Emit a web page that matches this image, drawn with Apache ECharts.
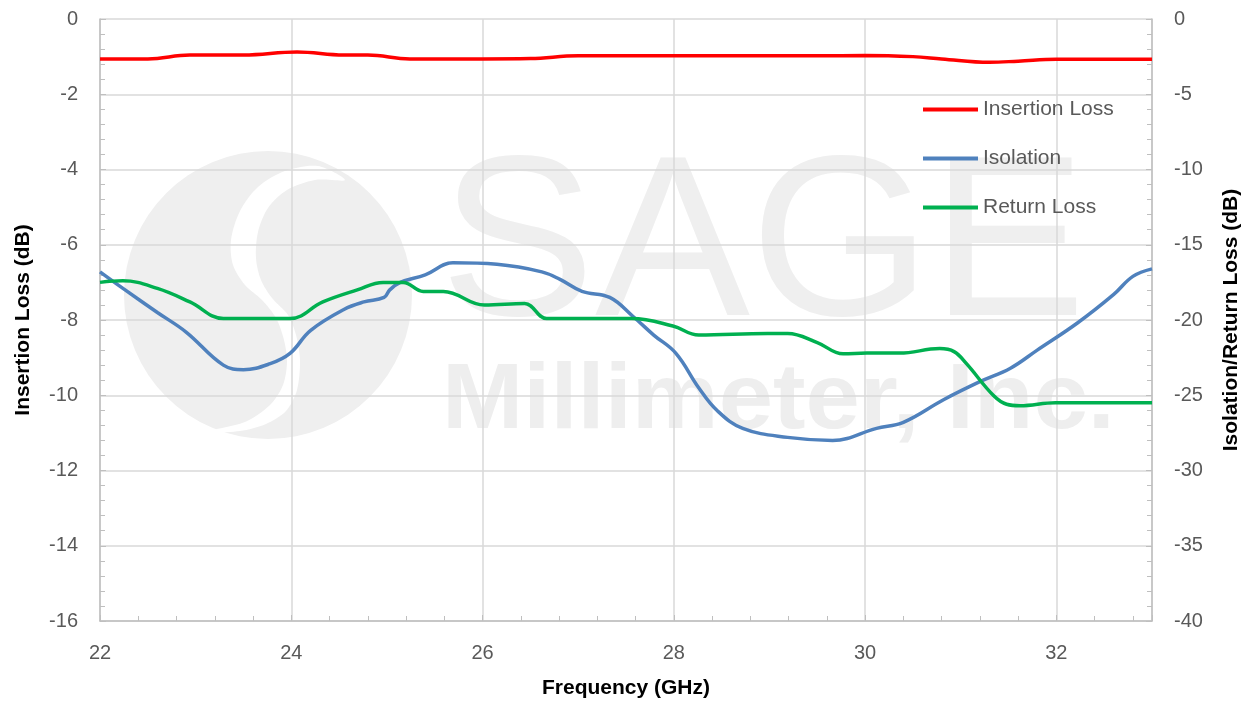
<!DOCTYPE html>
<html>
<head>
<meta charset="utf-8">
<script src="https://cdn.jsdelivr.net/npm/echarts@6/dist/echarts.min.js"></script>
<style>
  html, body { margin: 0; padding: 0; background: #fff; }
  #main { width: 1253px; height: 705px; }
</style>
</head>
<body>
<div id="main"></div>
<script>
// insertion loss, left axis (dB)
var ilFreq = [22, 22.5, 22.94, 23.5, 24.06, 24.55, 24.8, 25.24, 25.6, 26, 26.5, 27, 27.5, 28, 28.5, 29, 29.5, 30, 30.5, 30.8, 31.3, 31.6, 32, 32.5, 33];
var ilDb = [-1.06, -1.06, -0.96, -0.96, -0.88, -0.96, -0.96, -1.06, -1.06, -1.06, -1.05, -0.98, -0.98, -0.98, -0.98, -0.98, -0.98, -0.97, -1.0, -1.06, -1.15, -1.12, -1.07, -1.07, -1.07];

// isolation, right axis (dB)
var isoFreq = [22, 22.24, 22.6, 22.9, 23.29, 23.5, 23.78, 23.99, 24.2, 24.55, 24.76, 24.97, 25.03, 25.14, 25.4, 25.69, 26.15, 26.62, 26.81, 27.04, 27.33, 27.58, 27.79, 28.02, 28.26, 28.45, 28.72, 29.19, 29.66, 30.12, 30.4, 30.82, 31.2, 31.52, 31.8, 32.22, 32.6, 32.8, 33];
var isoDb = [-16.8, -17.9, -19.5, -20.8, -23.0, -23.3, -22.9, -22.2, -20.7, -19.3, -18.8, -18.5, -18.0, -17.5, -17.0, -16.2, -16.3, -16.8, -17.3, -18.1, -18.5, -19.8, -21.0, -22.2, -24.5, -26.0, -27.2, -27.8, -28.0, -27.2, -26.8, -25.3, -24.1, -23.2, -22.0, -20.2, -18.3, -17.1, -16.6];

// return loss, right axis (dB)
var rlFreq = [22, 22.24, 22.6, 22.94, 23.29, 23.64, 23.99, 24.33, 24.69, 24.96, 25.17, 25.38, 25.59, 26.02, 26.44, 26.67, 27.23, 27.56, 27.99, 28.26, 28.98, 29.19, 29.5, 29.77, 30.02, 30.36, 30.78, 30.93, 31.06, 31.34, 31.48, 31.62, 31.99, 32.5, 33];
var rlDb = [-17.5, -17.4, -17.9, -18.8, -19.9, -19.9, -19.9, -18.8, -18.0, -17.5, -17.5, -18.1, -18.1, -19.0, -18.9, -19.9, -19.9, -19.9, -20.4, -21.0, -20.9, -20.9, -21.5, -22.25, -22.2, -22.2, -21.9, -22.1, -22.9, -25.0, -25.6, -25.7, -25.5, -25.5, -25.5];

var seriesNames = ["Insertion Loss", "Isolation", "Return Loss"];

function pairs(xs, ys) {
  var out = [];
  for (var i = 0; i < xs.length; i++) {
    out.push([xs[i], ys[i]]);
  }
  return out;
}

var myChart = echarts.init(document.getElementById("main"));
var txt = "#595959";
var font = "Liberation Sans";
var axisGray = "#bfbfbf";

function yAxisBase(extra) {
  var base = {
    type: "value",
    nameLocation: "middle",
    nameTextStyle: { color: "#000", fontSize: 21, fontWeight: "bold" },
    axisLine: { show: true, lineStyle: { color: axisGray, width: 1.5 } },
    axisTick: { inside: true, length: 6, lineStyle: { color: axisGray } },
    minorTick: { show: true, splitNumber: 5, length: 5, lineStyle: { color: axisGray } },
    axisLabel: { color: txt, fontSize: 20, margin: 22 }
  };
  for (var k in extra) base[k] = extra[k];
  return base;
}

myChart.setOption({
  animation: false,
  textStyle: { fontFamily: font },
  grid: { left: 100, right: 101, top: 19, bottom: 84 },
  color: ["#ff0000", "#4f81bd", "#00b050"],
  graphic: [
    // faint SAGE watermark behind the plot
    { type: "circle", z: -10, silent: true, shape: { cx: 268, cy: 295, r: 144 }, style: { fill: "#efefef" } },
    { type: "polygon", z: -9, silent: true,
      shape: {
        smooth: 0.3,
        points: [[318, 166], [285, 171], [258, 187], [240, 211], [231, 240], [233, 265], [245, 285], [262, 300],
                 [276, 318], [284, 340], [287, 362], [283, 385], [270, 405], [245, 422], [205, 432],
                 [240, 431], [266, 424], [286, 411], [297, 390], [300, 360], [296, 335], [288, 315], [272, 298],
                 [261, 280], [256, 258], [258, 232], [268, 208], [287, 190], [315, 180], [345, 180]]
      },
      style: { fill: "#ffffff" } },
    { type: "text", z: -10, silent: true, left: 440, top: 138, scaleX: 1.02,
      style: { text: "SAGE", font: "228px Liberation Sans", fill: "#efefef" } },
    { type: "text", z: -10, silent: true, left: 442, top: 356, scaleX: 1.05,
      style: { text: "Millimeter, Inc.", font: "bold 93px Liberation Sans", fill: "#eeeeee" } }
  ],
  legend: {
    orient: "vertical",
    left: 918,
    top: 94,
    icon: "rect",
    itemWidth: 55,
    itemHeight: 4,
    itemGap: 28,
    textStyle: { color: txt, fontSize: 21, fontFamily: font },
    data: seriesNames
  },
  xAxis: {
    type: "value",
    min: 22,
    max: 33,
    interval: 2,
    name: "Frequency (GHz)",
    nameLocation: "middle",
    nameGap: 57,
    nameTextStyle: { color: "#000", fontSize: 21, fontWeight: "bold" },
    axisLine: { onZero: false, lineStyle: { color: axisGray, width: 1.5 } },
    axisTick: { inside: true, length: 6, lineStyle: { color: axisGray } },
    minorTick: { show: true, splitNumber: 5, length: 5, lineStyle: { color: axisGray } },
    axisLabel: { color: txt, fontSize: 20, margin: 22, showMaxLabel: false },
    splitLine: { show: true, lineStyle: { color: "#d9d9d9", width: 1.5 } }
  },
  yAxis: [
    yAxisBase({
      min: -16,
      max: 0,
      interval: 2,
      name: "Insertion Loss (dB)",
      nameGap: 66,
      splitLine: { show: true, lineStyle: { color: "#d9d9d9", width: 1.5 } }
    }),
    yAxisBase({
      min: -40,
      max: 0,
      interval: 5,
      position: "right",
      name: "Isolation/Return Loss (dB)",
      nameGap: 69,
      splitLine: { show: false }
    })
  ],
  series: [
    {
      name: seriesNames[0],
      type: "line",
      yAxisIndex: 0,
      smooth: 0.4,
      symbol: "none",
      data: pairs(ilFreq, ilDb),
      lineStyle: { width: 3.5, color: "#ff0000" }
    },
    {
      name: seriesNames[1],
      type: "line",
      yAxisIndex: 1,
      smooth: 0.4,
      symbol: "none",
      data: pairs(isoFreq, isoDb),
      lineStyle: { width: 3.5, color: "#4f81bd" }
    },
    {
      name: seriesNames[2],
      type: "line",
      yAxisIndex: 1,
      smooth: 0.4,
      symbol: "none",
      data: pairs(rlFreq, rlDb),
      lineStyle: { width: 3.5, color: "#00b050" }
    }
  ]
});
</script>
</body>
</html>
